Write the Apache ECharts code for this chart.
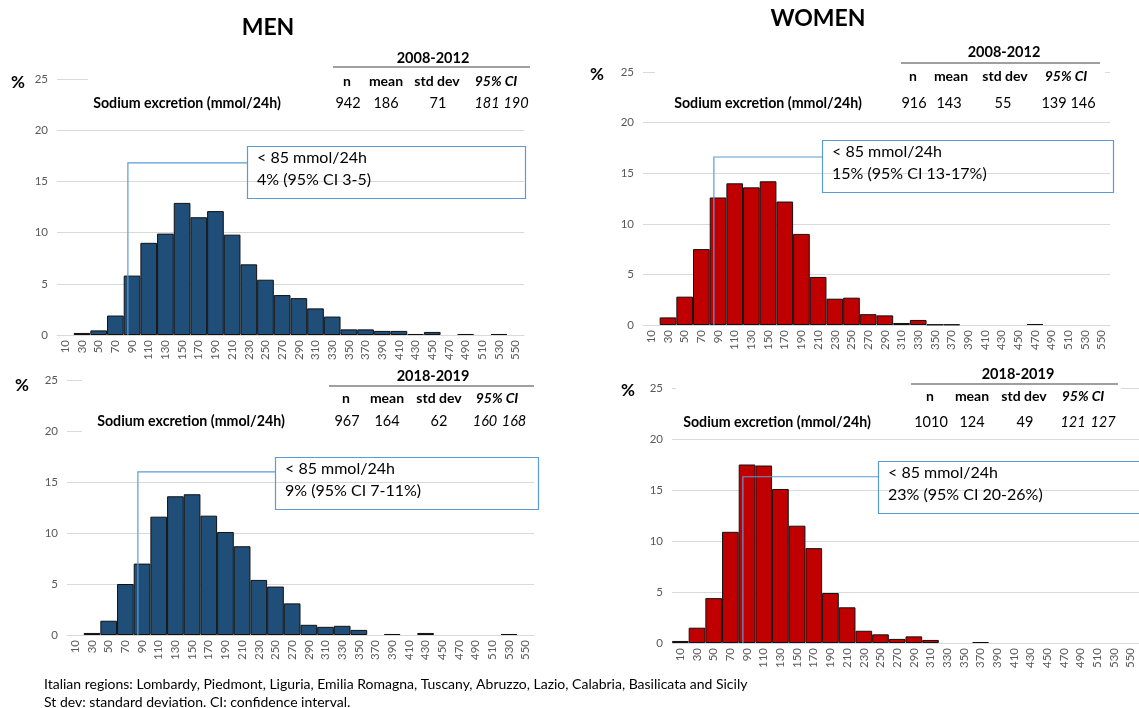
<!DOCTYPE html>
<html><head><meta charset="utf-8">
<script src="https://cdn.jsdelivr.net/npm/echarts@6/dist/echarts.min.js"></script>
<style>html,body{margin:0;padding:0;background:#fff}#c{width:1139px;height:708px}</style>
</head><body><div id="c"></div>
<script>
// ---------- data ----------
const categories = ['10','30','50','70','90','110','130','150','170','190','210','230','250','270','290','310','330','350','370','390','410','430','450','470','490','510','530','550'];
const men2008   = [0,0.2,0.45,1.9,5.8,9.0,9.9,12.9,11.5,12.1,9.8,6.9,5.4,3.9,3.6,2.6,1.8,0.55,0.55,0.4,0.4,0.1,0.3,0,0.1,0,0.1,0];
const women2008 = [0,0.75,2.8,7.5,12.6,14.0,13.6,14.2,12.2,9.0,4.75,2.6,2.7,1.07,0.95,0.2,0.5,0.05,0.05,0,0,0,0,0.1,0,0,0,0];
const men2018   = [0,0.2,1.4,5.0,7.0,11.6,13.6,13.8,11.7,10.1,8.7,5.4,4.75,3.1,1.0,0.8,0.9,0.5,0,0.1,0,0.2,0,0,0,0,0.1,0];
const women2018 = [0.2,1.5,4.4,10.9,17.5,17.4,15.1,11.5,9.3,4.9,3.5,1.2,0.85,0.4,0.65,0.3,0,0,0.1,0,0,0,0,0,0,0,0,0];
const yTicks = [0,5,10,15,20,25];
const tableHeader = ['n','mean','std dev','95% CI'];
const rowLabel = 'Sodium excretion (mmol/24h)';
const statsMen2008   = ['942','186','71','181','190'];
const statsWomen2008 = ['916','143','55','139','146'];
const statsMen2018   = ['967','164','62','160','168'];
const statsWomen2018 = ['1010','124','49','121','127'];
const periods = ['2008-2012','2008-2012','2018-2019','2018-2019'];
const noteMen2008   = ['< 85 mmol/24h','4% (95% CI 3-5)'];
const noteWomen2008 = ['< 85 mmol/24h','15% (95% CI 13-17%)'];
const noteMen2018   = ['< 85 mmol/24h','9% (95% CI 7-11%)'];
const noteWomen2018 = ['< 85 mmol/24h','23% (95% CI 20-26%)'];
const threshold = 85;
const footnotes = ['Italian regions: Lombardy, Piedmont, Liguria, Emilia Romagna, Tuscany, Abruzzo, Lazio, Calabria, Basilicata and Sicily',
                   'St dev: standard deviation. CI: confidence interval.'];

// ---------- layout ----------
const FONT = 'Lato, "Open Sans", sans-serif';
const MEN = '#1F4E79', WOMEN = '#C00000', LINE = '#5B9BD5';
const panels = [
  { data: men2008, stats: statsMen2008, note: noteMen2008, color: MEN, italicCI: true,
    grid: {left:57, top:79, width:467, height:256},
    pct: [18,83], cover: [88,40,444,72],
    year: [433,58], rule: [333,530,67], headY: 81, valY: 103, labelX: 187,
    cols: [347,386,437,496], vals: [348,386,438,487,516],
    box: [247,146,278,52], connY: 16.8 },
  { data: women2008, stats: statsWomen2008, note: noteWomen2008, color: WOMEN, italicCI: false,
    grid: {left:643, top:72, width:467, height:253},
    pct: [597,75], cover: [655,38,450,76],
    year: [1004,52], rule: [901,1100,63], headY: 76, valY: 103, labelX: 768,
    cols: [913,951,1005,1066], vals: [914,949,1003,1054,1083],
    box: [822,140,291,52], connY: 16.6 },
  { data: men2018, stats: statsMen2018, note: noteMen2018, color: MEN, italicCI: true,
    grid: {left:67, top:380, width:467, height:255},
    pct: [22,386], cover: [82,362,458,76],
    year: [433,376], rule: [329,534,386], headY: 398, valY: 421, labelX: 191,
    cols: [346,387,439,497], vals: [347,387,439,485,514],
    box: [275,457,263,52], connY: 16.0 },
  { data: women2018, stats: statsWomen2018, note: noteWomen2018, color: WOMEN, italicCI: true,
    grid: {left:672, top:388, width:467, height:255},
    pct: [628,391], cover: [676,364,445,66],
    year: [1018,374], rule: [911,1118,384], headY: 396, valY: 422, labelX: 777,
    cols: [930,972,1024,1083], vals: [931,972,1025,1073,1103],
    box: [878,461,270,52], connY: 16.3 }
];

const chart = echarts.init(document.getElementById('c'), null, {renderer:'canvas'});
const option = {
  animation: false,
  backgroundColor: '#fff',
  textStyle: { fontFamily: FONT },
  grid: panels.map(p => Object.assign({containLabel:false}, p.grid)),
  xAxis: panels.map((p,i) => ({
    type:'category', gridIndex:i, data: categories,
    axisTick:{show:false},
    axisLine:{show:true, lineStyle:{color:'#D9D9D9', width:1}},
    axisLabel:{interval:0, rotate:90, fontSize:11.5, color:'#595959', margin:5, fontFamily: FONT}
  })),
  yAxis: panels.map((p,i) => ({
    type:'value', gridIndex:i, min: yTicks[0], max: yTicks[yTicks.length-1], interval: yTicks[1]-yTicks[0],
    axisLine:{show:false}, axisTick:{show:false},
    axisLabel:{fontSize:11.5, color:'#595959', margin:9, fontFamily: FONT},
    splitLine:{lineStyle:{color:'#D9D9D9', width:1}}
  })),
  series: panels.map((p,i) => ({
    type:'bar', xAxisIndex:i, yAxisIndex:i,
    data: p.data.map(v => v === 0 ? '-' : v),   // empty bins draw nothing
    barCategoryGap:'0%', silent:true,
    itemStyle:{color:p.color, borderColor:'#111', borderWidth:1}
  }))
};
chart.setOption(option);

// ---------- annotations / text ----------
function txt(s, x, y, o) {
  o = o || {};
  return { type:'text', z: o.z || 20, silent:true,
    style:{ text:s, x:x, y:y, fill:o.color||'#000', textAlign:o.align||'center', textVerticalAlign:'middle',
      font: (o.italic?'italic ':'') + (o.bold?'bold ':'') + (o.size||13) + 'px ' + FONT } };
}
const els = [];
els.push(txt('MEN', 268, 28, {bold:true, size:23}));
els.push(txt('WOMEN', 818, 19, {bold:true, size:23}));
panels.forEach((p,i) => {
  els.push({ type:'rect', z:5, silent:true, shape:{x:p.cover[0], y:p.cover[1], width:p.cover[2], height:p.cover[3]}, style:{fill:'#fff'} });
  els.push(txt('%', p.pct[0], p.pct[1], {bold:true, size:17}));
  els.push(txt(periods[i], p.year[0], p.year[1], {bold:true, size:14.5}));
  els.push({ type:'line', z:20, silent:true, shape:{x1:p.rule[0], y1:p.rule[2], x2:p.rule[1], y2:p.rule[2]}, style:{stroke:'#7f7f7f', lineWidth:1.5} });
  tableHeader.forEach((h,k) => els.push(txt(h, p.cols[k], p.headY, {bold:true, italic: k===3, size:14})));
  els.push(txt(rowLabel, p.labelX, p.valY, {bold:true, size:14.2}));
  p.stats.forEach((v,k) => els.push(txt(v, p.vals[k], p.valY, {size:14.5, italic: k>=3 && p.italicCI})));
  const b = p.box;
  els.push({ type:'rect', z:20, silent:true, shape:{x:b[0]+0.5, y:b[1]+0.5, width:b[2], height:b[3]}, style:{fill:'none', stroke:LINE, lineWidth:1.2} });
  els.push(txt(p.note[0], b[0]+10, b[1]+12, {align:'left', size:16}));
  els.push(txt(p.note[1], b[0]+10, b[1]+34, {align:'left', size:16}));
  const i70 = categories.indexOf('70'), i90 = categories.indexOf('90');
  const x70 = chart.convertToPixel({xAxisIndex:i}, i70);
  const x90 = chart.convertToPixel({xAxisIndex:i}, i90);
  const x = x70 + (threshold - 70) / 20 * (x90 - x70);
  const y0 = chart.convertToPixel({yAxisIndex:i}, 0);
  const y1 = chart.convertToPixel({yAxisIndex:i}, p.connY);
  els.push({ type:'polyline', z:20, silent:true, shape:{points:[[x,y0],[x,y1],[b[0],y1]]}, style:{stroke:LINE, lineWidth:1.2, fill:null} });
});
els.push(txt(footnotes[0], 44, 684, {align:'left', size:14}));
els.push(txt(footnotes[1], 44, 702, {align:'left', size:14}));
chart.setOption({ graphic: { elements: els } });
</script>
</body></html>
